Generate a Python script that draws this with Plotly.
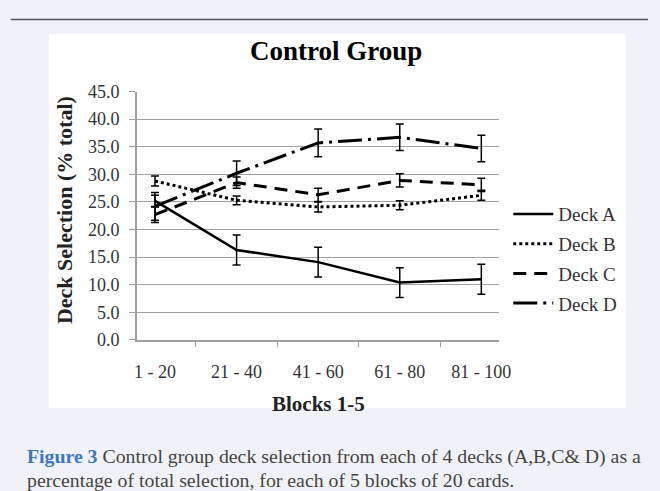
import plotly.graph_objects as go

# ---- data ----
blocks = ["1 - 20", "21 - 40", "41 - 60", "61 - 80", "81 - 100"]
deck_a = [25.2, 16.3, 14.1, 10.4, 11.0]
deck_a_err = [1.0, 2.7, 2.7, 2.7, 2.7]
deck_b = [28.8, 25.3, 24.1, 24.4, 26.2]
deck_b_err = [0.9, 0.8, 0.9, 0.8, 0.9]
deck_c = [22.7, 28.5, 26.3, 28.9, 28.1]
deck_c_err = [1.4, 1.0, 1.2, 1.2, 1.2]
deck_d = [24.2, 30.2, 35.7, 36.7, 34.7]
deck_d_err = [2.5, 2.2, 2.5, 2.4, 2.4]
y_ticks = [0, 5, 10, 15, 20, 25, 30, 35, 40, 45]

W, H = 660, 491
def px(x):
    return x / W
def py(y):
    return (H - y) / H

SERIF = "Liberation Serif"

series = [
    ("Deck A", deck_a, deck_a_err, "solid", 2.5),
    ("Deck B", deck_b, deck_b_err, "3px,3px", 3),
    ("Deck C", deck_c, deck_c_err, "13px,8px", 3),
    ("Deck D", deck_d, deck_d_err, "24px,6px,3px,6px", 3),
]

fig = go.Figure()
for name, vals, errs, dash, w in series:
    fig.add_trace(go.Scatter(
        x=blocks, y=vals, name=name, mode="lines", legendgroup=name,
        line=dict(color="black", width=w, dash=dash),
        error_y=dict(type="data", array=errs, visible=True,
                     color="black", thickness=1.5, width=4),
    ))

fig.update_layout(
    width=W, height=H, autosize=False,
    margin=dict(l=0, r=0, t=0, b=0),
    paper_bgcolor="#f1f2f7",
    plot_bgcolor="white",
    showlegend=True,
    legend=dict(x=px(517), y=py(193), xanchor="left", yanchor="top",
                bgcolor="rgba(0,0,0,0)", font=dict(family=SERIF, size=19, color="#333"),
                tracegroupgap=2, itemwidth=40),
    xaxis=dict(domain=[px(137), px(508)], type="category",
               showline=True, linecolor="#a0a0a0", linewidth=1.5,
               ticks="outside", tickson="boundaries", ticklen=5, tickcolor="#a0a0a0",
               tickfont=dict(family=SERIF, size=18, color="#333"),
               ticklabelstandoff=15, showgrid=False),
    yaxis=dict(domain=[py(344), py(85)], range=[0, 45], tickvals=y_ticks,
               tickformat=".1f", showline=True, linecolor="#a0a0a0", linewidth=1.5,
               ticks="outside", ticklen=6, tickcolor="#a0a0a0",
               gridcolor="#a0a0a0", gridwidth=1.3, zeroline=False,
               ticklabelstandoff=6,
               tickfont=dict(family=SERIF, size=18, color="#333")),
    shapes=[
        dict(type="rect", xref="paper", yref="paper", x0=px(47), x1=px(637),
             y0=py(415), y1=py(25), fillcolor="white", line=dict(width=0), layer="below"),
        dict(type="line", xref="paper", yref="paper", x0=px(8), x1=1,
             y0=py(10), y1=py(10), line=dict(color="#555", width=1.5)),
    ],
    annotations=[
        dict(text="<b>Control Group</b>", xref="paper", yref="paper",
             x=px(341), y=py(43), showarrow=False, xanchor="center", yanchor="middle",
             font=dict(family=SERIF, size=27, color="black")),
        dict(text="<b>Deck Selection (% total)</b>", xref="paper", yref="paper",
             x=px(63), y=py(209), showarrow=False, textangle=-90,
             xanchor="center", yanchor="middle",
             font=dict(family=SERIF, size=22, color="#222")),
        dict(text="<b>Blocks 1-5</b>", xref="paper", yref="paper",
             x=px(323), y=py(411), showarrow=False, xanchor="center", yanchor="middle",
             font=dict(family=SERIF, size=21, color="#222")),
        dict(text="<span style='color:#3b78c2'><b>Figure 3</b></span> Control group deck selection from each of 4 decks (A,B,C& D) as a",
             xref="paper", yref="paper", x=px(22), y=py(465), showarrow=False,
             xanchor="left", yanchor="middle",
             font=dict(family=SERIF, size=19.8, color="#444")),
        dict(text="percentage of total selection, for each of 5 blocks of 20 cards.",
             xref="paper", yref="paper", x=px(22), y=py(490), showarrow=False,
             xanchor="left", yanchor="middle",
             font=dict(family=SERIF, size=19.8, color="#444")),
    ],
)

fig.write_html(
    "out.html",
    config={"displayModeBar": False},
    post_script="document.documentElement.style.margin='0';document.body.style.margin='0';"
                "document.body.style.overflow='hidden';document.body.style.background='#f1f2f7';",
)
